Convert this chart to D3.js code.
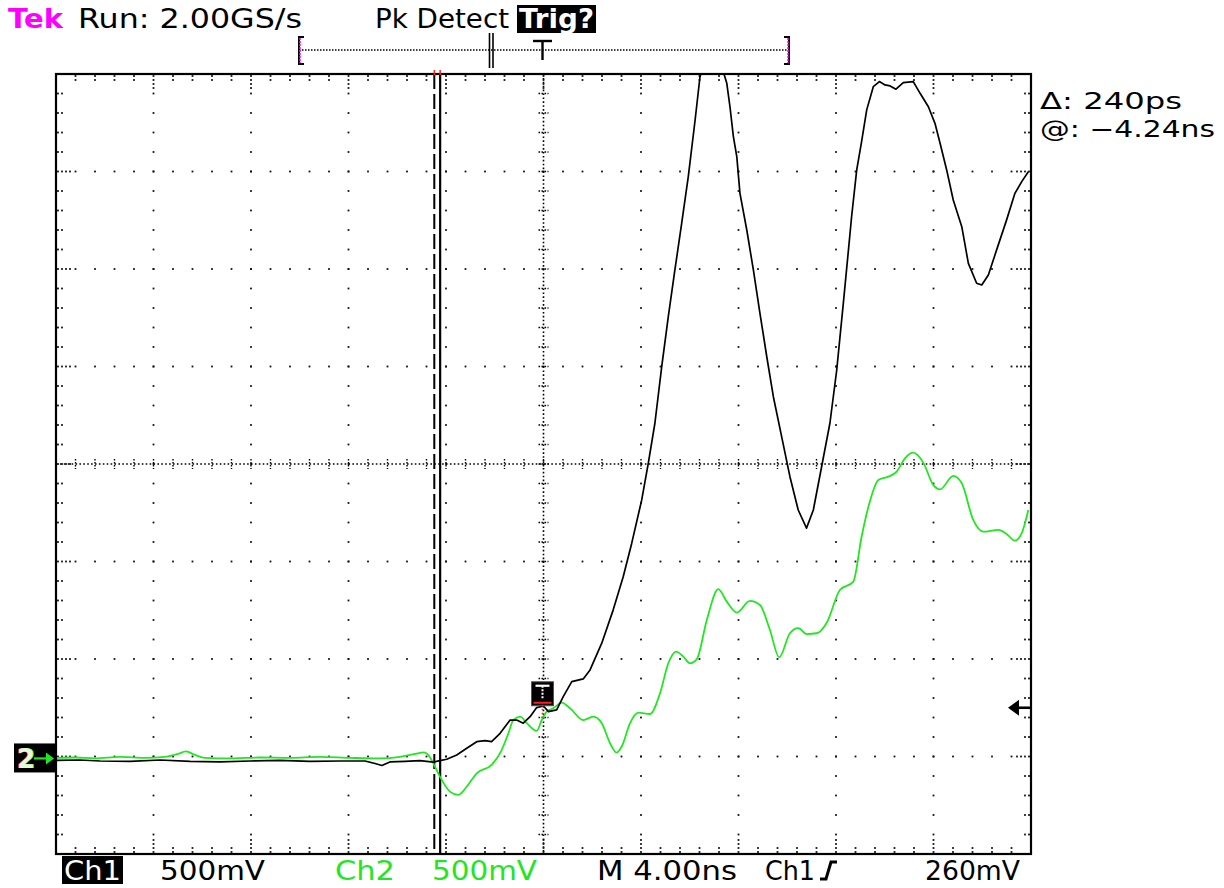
<!DOCTYPE html>
<html>
<head>
<meta charset="utf-8">
<script src="https://cdn.jsdelivr.net/npm/d3@7"></script>
<style>
  html, body { margin: 0; padding: 0; background: #fff; }
  svg { display: block; }
  text { font-family: "DejaVu Sans", "Liberation Sans", sans-serif; }
</style>
</head>
<body>
<svg id="scope" width="1224" height="888"></svg>
<script>
// ---- acquisition settings ----
const timePerDiv = 4.0;        // ns / div
const ch1VoltsPerDiv = 0.5;    // V / div
const ch2VoltsPerDiv = 0.5;    // V / div
const groundDiv = -3.02;       // ground reference of both channels, divisions from centre
const triggerLevel = 0.26;     // V, Ch1 rising edge
const cursorAt = -4.24;        // ns, solid cursor
const cursorDelta = 0.24;      // ns, dashed cursor sits this far before

// ---- Ch1 trace: [time ns, volts] ----
const ch1Trace = [
  [-19.96,-0.010],[-19.02,-0.008],[-18.19,-0.013],[-16.96,-0.015],[-15.73,-0.008],
  [-14.50,-0.015],[-13.27,-0.018],[-12.04,-0.013],[-10.81,-0.010],[-9.58,-0.015],
  [-8.35,-0.013],[-7.32,-0.013],[-6.91,-0.026],[-6.63,-0.036],[-6.30,-0.018],
  [-5.68,-0.015],[-5.07,-0.011],[-4.52,-0.019],[-4.25,-0.011],[-3.97,-0.004],
  [-3.56,0.018],[-3.15,0.052],[-2.74,0.086],[-2.40,0.091],[-2.13,0.086],
  [-1.78,0.129],[-1.37,0.197],[-1.10,0.197],[-0.83,0.181],[-0.55,0.214],
  [-0.28,0.261],[0.00,0.269],[0.20,0.240],[0.54,0.249],[0.81,0.317],
  [1.16,0.394],[1.63,0.408],[1.91,0.454],[2.39,0.591],[2.86,0.762],
  [3.27,0.932],[3.62,1.104],[4.03,1.326],[4.30,1.514],[4.57,1.719],
  [4.85,2.009],[5.12,2.266],[5.39,2.505],[5.67,2.745],[5.94,2.984],
  [6.22,3.274],[6.42,3.496],[6.95,3.700],[7.52,3.462],[7.65,3.342],
  [7.79,3.189],[7.93,3.086],[8.06,2.898],[8.34,2.710],[8.61,2.505],
  [8.88,2.283],[9.16,2.060],[9.43,1.855],[9.77,1.650],[10.11,1.445],
  [10.45,1.274],[10.79,1.181],[11.07,1.274],[11.41,1.496],[11.75,1.719],
  [12.03,1.992],[12.30,2.334],[12.52,2.620],[12.64,2.778],[12.85,3.018],
  [13.05,3.163],[13.26,3.326],[13.53,3.445],[13.78,3.471],[14.01,3.454],
  [14.22,3.449],[14.46,3.432],[14.76,3.466],[15.17,3.471],[15.45,3.411],
  [15.79,3.342],[16.06,3.257],[16.27,3.155],[16.54,3.018],[16.81,2.864],
  [17.16,2.727],[17.43,2.539],[17.77,2.437],[17.98,2.428],[18.25,2.479],
  [18.59,2.608],[19.00,2.762],[19.34,2.898],[19.62,2.958],[19.89,3.009]
];

// ---- Ch2 trace: [time ns, volts] ----
const ch2Trace = [
  [-19.96,0.003],[-19.22,0.005],[-18.40,0.000],[-17.38,0.008],[-16.36,0.003],
  [-15.54,0.008],[-15.00,0.023],[-14.67,0.036],[-14.30,0.018],[-13.89,0.003],
  [-12.86,0.000],[-11.63,0.005],[-10.40,0.003],[-9.17,0.008],[-7.94,0.003],
  [-6.71,0.000],[-5.89,0.008],[-5.27,0.023],[-4.90,0.031],[-4.73,0.018],
  [-4.52,-0.025],[-4.25,-0.093],[-3.84,-0.170],[-3.50,-0.187],[-3.15,-0.145],
  [-2.74,-0.076],[-2.13,-0.033],[-1.78,0.027],[-1.44,0.129],[-1.24,0.197],
  [-0.96,0.214],[-0.69,0.181],[-0.28,0.141],[-0.07,0.197],[0.13,0.240],
  [0.40,0.257],[0.75,0.286],[1.09,0.257],[1.63,0.197],[2.04,0.214],
  [2.39,0.181],[2.73,0.078],[3.00,0.030],[3.21,0.061],[3.55,0.181],
  [3.89,0.235],[4.37,0.228],[4.78,0.334],[5.12,0.488],[5.44,0.548],
  [5.74,0.522],[6.01,0.488],[6.29,0.509],[6.70,0.710],[7.17,0.868],
  [7.52,0.804],[7.93,0.748],[8.47,0.808],[8.88,0.787],[9.29,0.659],
  [9.67,0.519],[10.11,0.642],[10.45,0.668],[10.80,0.638],[11.21,0.642],
  [11.62,0.696],[12.16,0.864],[12.71,0.907],[13.05,1.137],[13.33,1.291],
  [13.74,1.428],[14.15,1.445],[14.49,1.471],[14.83,1.539],[15.17,1.568],
  [15.58,1.517],[15.99,1.403],[16.27,1.380],[16.81,1.449],[17.16,1.411],
  [17.63,1.223],[18.04,1.163],[18.66,1.172],[19.00,1.151],[19.34,1.117],
  [19.62,1.155],[19.89,1.274]
];

// ---- readout texts ----
const statusTexts = ["Tek", "Run: 2.00GS/s", "Pk Detect", "Trig?"];
const channelTexts = ["Ch1", "500mV", "Ch2", "500mV"];
const timebaseTexts = ["M 4.00ns", "Ch1", "260mV"];
const cursorTexts = ["\u0394: 240ps", "@: \u22124.24ns"];

// ---- colours ----
const INK = "#000";
const CH2 = "#22e622";
const TEK = "#ff00ff";
const RED = "#ff2020";

// ---- geometry ----
const X0 = 56, X1 = 1031, Y0 = 74, Y1 = 854;
const HDIV = 10, VDIV = 8, MINOR = 5;

const svg = d3.select("#scope");
svg.append("rect").attr("width", 1224).attr("height", 888).attr("fill", "#fff");

const x = d3.scaleLinear().domain([-HDIV / 2 * timePerDiv, HDIV / 2 * timePerDiv]).range([X0, X1]);
const divY = d3.scaleLinear().domain([-VDIV / 2, VDIV / 2]).range([Y1, Y0]);
const divX = d3.scaleLinear().domain([-HDIV / 2, HDIV / 2]).range([X0, X1]);
function channelScale(vpd) {
  return d3.scaleLinear()
    .domain([(-VDIV / 2 - groundDiv) * vpd, (VDIV / 2 - groundDiv) * vpd])
    .range([Y1, Y0]);
}
const y1 = channelScale(ch1VoltsPerDiv);
const y2 = channelScale(ch2VoltsPerDiv);

// ---- graticule ----
const grat = svg.append("g");
const dot = (gx, gy, s = 1.8) => grat.append("rect")
  .attr("x", gx - s / 2).attr("y", gy - s / 2).attr("width", s).attr("height", s).attr("fill", "#111");

const minorX = d3.range(1, HDIV * MINOR).map(k => divX(-HDIV / 2 + k / MINOR));
const minorY = d3.range(1, VDIV * MINOR).map(k => divY(-VDIV / 2 + k / MINOR));

// dotted major lines
d3.range(1, HDIV).filter(i => i !== HDIV / 2).forEach(i => {
  const gx = divX(-HDIV / 2 + i);
  minorY.forEach(gy => dot(gx, gy));
});
d3.range(1, VDIV).filter(j => j !== VDIV / 2).forEach(j => {
  const gy = divY(-VDIV / 2 + j);
  minorX.forEach(gx => dot(gx, gy));
});

// centre cross: fine dotted line with minor ticks
const cx = divX(0), cy = divY(0);
grat.append("line").attr("x1", X0).attr("x2", X1).attr("y1", cy).attr("y2", cy)
  .attr("stroke", INK).attr("stroke-width", 1.6).attr("stroke-dasharray", "1.6,2.3");
grat.append("line").attr("x1", cx).attr("x2", cx).attr("y1", Y0).attr("y2", Y1)
  .attr("stroke", INK).attr("stroke-width", 1.6).attr("stroke-dasharray", "1.6,2.3");
minorX.forEach(gx => grat.append("line").attr("x1", gx).attr("x2", gx).attr("y1", cy - 5).attr("y2", cy + 5)
  .attr("stroke", INK).attr("stroke-width", 1.4).attr("stroke-dasharray", "1.6,1.4"));
minorY.forEach(gy => grat.append("line").attr("x1", cx - 5).attr("x2", cx + 5).attr("y1", gy).attr("y2", gy)
  .attr("stroke", INK).attr("stroke-width", 1.4).attr("stroke-dasharray", "1.6,1.4"));

// edge ticks (two dots at minor, four dots at major)
minorX.forEach((gx, k) => {
  const n = ((k + 1) % MINOR === 0) ? 4 : 2;
  for (let m = 0; m < n; m++) {
    dot(gx, Y0 + 2 + m * 4);
    dot(gx, Y1 - 2 - m * 4);
  }
});
minorY.forEach((gy, k) => {
  const n = ((k + 1) % MINOR === 0) ? 4 : 2;
  for (let m = 0; m < n; m++) {
    dot(X0 + 2 + m * 4, gy);
    dot(X1 - 2 - m * 4, gy);
  }
});

// frame
grat.append("rect").attr("x", X0).attr("y", Y0).attr("width", X1 - X0).attr("height", Y1 - Y0)
  .attr("fill", "none").attr("stroke", INK).attr("stroke-width", 2.2);

// ---- cursors ----
const cSolid = x(cursorAt), cDash = x(cursorAt - cursorDelta);
svg.append("line").attr("x1", cDash).attr("x2", cDash).attr("y1", Y0).attr("y2", Y1)
  .attr("stroke", INK).attr("stroke-width", 2).attr("stroke-dasharray", "15,5");
svg.append("line").attr("x1", cSolid).attr("x2", cSolid).attr("y1", Y0).attr("y2", Y1)
  .attr("stroke", INK).attr("stroke-width", 2.2);
[cDash, cSolid].forEach(cxv => svg.append("line").attr("x1", cxv).attr("x2", cxv)
  .attr("y1", Y0 - 4).attr("y2", Y0 + 1).attr("stroke", RED).attr("stroke-width", 1.5));

// ---- waveforms ----
svg.append("clipPath").attr("id", "screen").append("rect")
  .attr("x", X0).attr("y", Y0).attr("width", X1 - X0).attr("height", Y1 - Y0);
const traces = svg.append("g").attr("clip-path", "url(#screen)");

const line1 = d3.line().x(d => x(d[0])).y(d => y1(d[1])).curve(d3.curveLinear);
const line2 = d3.line().x(d => x(d[0])).y(d => y2(d[1])).curve(d3.curveMonotoneX);

traces.append("path").datum(ch2Trace).attr("d", line2)
  .attr("fill", "none").attr("stroke", CH2).attr("stroke-width", 1.8).attr("stroke-linejoin", "round");
traces.append("path").datum(ch1Trace).attr("d", line1)
  .attr("fill", "none").attr("stroke", INK).attr("stroke-width", 1.7).attr("stroke-linejoin", "round");

// ---- trigger point marker on screen ----
const tx = x(0), ty = y1(triggerLevel);
const tm = svg.append("g");
tm.append("rect").attr("x", tx - 12).attr("y", ty - 26).attr("width", 22).attr("height", 24)
  .attr("fill", INK).attr("stroke", "#555").attr("stroke-width", 1);
tm.append("line").attr("x1", tx - 8).attr("x2", tx + 6).attr("y1", ty - 22).attr("y2", ty - 22)
  .attr("stroke", "#fff").attr("stroke-width", 2.2);
tm.append("line").attr("x1", tx - 1).attr("x2", tx - 1).attr("y1", ty - 22).attr("y2", ty - 9)
  .attr("stroke", "#fff").attr("stroke-width", 2).attr("stroke-dasharray", "2,1.5");
tm.append("line").attr("x1", tx - 10).attr("x2", tx + 8).attr("y1", ty - 5).attr("y2", ty - 5)
  .attr("stroke", RED).attr("stroke-width", 2);
tm.append("line").attr("x1", tx - 1).attr("x2", tx - 1).attr("y1", ty - 3).attr("y2", ty + 10)
  .attr("stroke", RED).attr("stroke-width", 1.6).attr("stroke-dasharray", "1.6,2.4");

// ---- trigger level arrow (right edge) ----
svg.append("path")
  .attr("d", `M${X1 - 23},${ty} l11,-8 v16 z`).attr("fill", INK);
svg.append("line").attr("x1", X1 - 14).attr("x2", X1).attr("y1", ty).attr("y2", ty)
  .attr("stroke", INK).attr("stroke-width", 2.6);

// ---- ground reference marker (left edge) ----
const gy = y1(0);
const gm = svg.append("g");
gm.append("rect").attr("x", 14).attr("y", gy - 15).attr("width", X0 - 14).attr("height", 29).attr("fill", INK);
gm.append("text").attr("x", 16).attr("y", gy + 10).attr("font-size", 26).attr("font-weight", "bold")
  .attr("fill", RED).text("2");
gm.append("text").attr("x", 18).attr("y", gy + 10).attr("font-size", 26).attr("font-weight", "bold")
  .attr("fill", CH2).text("2");
gm.append("text").attr("x", 17).attr("y", gy + 10).attr("font-size", 26).attr("font-weight", "bold")
  .attr("fill", "#fff").attr("opacity", 0.85).text("2");
gm.append("line").attr("x1", 34).attr("x2", 48).attr("y1", gy).attr("y2", gy)
  .attr("stroke", CH2).attr("stroke-width", 2.2);
gm.append("path").attr("d", `M${X0 - 2},${gy} l-8,-6 v12 z`).attr("fill", CH2);

// ---- record view bar (top) ----
const rb = svg.append("g");
const rbY = 50, rbL = 299, rbR = 789;
rb.append("line").attr("x1", rbL).attr("x2", rbR).attr("y1", rbY).attr("y2", rbY)
  .attr("stroke", INK).attr("stroke-width", 1.4).attr("stroke-dasharray", "1.5,1.5");
rb.append("path").attr("d", `M${rbL + 5},37 H${rbL} V64 H${rbL + 5}`)
  .attr("fill", "none").attr("stroke", INK).attr("stroke-width", 2);
rb.append("line").attr("x1", rbL + 1).attr("x2", rbL + 1).attr("y1", 38).attr("y2", 63)
  .attr("stroke", TEK).attr("stroke-width", 1.5).attr("stroke-dasharray", "2,1");
rb.append("path").attr("d", `M${rbR - 5},37 H${rbR} V64 H${rbR - 5}`)
  .attr("fill", "none").attr("stroke", INK).attr("stroke-width", 2);
rb.append("line").attr("x1", rbR - 1).attr("x2", rbR - 1).attr("y1", 38).attr("y2", 63)
  .attr("stroke", TEK).attr("stroke-width", 1.5).attr("stroke-dasharray", "2,1");
[489.5, 493].forEach(v => rb.append("line").attr("x1", v).attr("x2", v).attr("y1", 33).attr("y2", 68)
  .attr("stroke", INK).attr("stroke-width", 1.6));
rb.append("line").attr("x1", 533).attr("x2", 552).attr("y1", 41).attr("y2", 41)
  .attr("stroke", INK).attr("stroke-width", 2.4);
rb.append("line").attr("x1", 542.5).attr("x2", 542.5).attr("y1", 41).attr("y2", 60)
  .attr("stroke", INK).attr("stroke-width", 2.4);

// ---- readouts ----
const FS = 26;
function label(str, lx, ly, width, color, weight, size) {
  return svg.append("text").attr("x", lx).attr("y", ly)
    .attr("font-size", size || FS).attr("font-weight", weight || "normal")
    .attr("fill", color || INK)
    .attr("textLength", width).attr("lengthAdjust", "spacingAndGlyphs")
    .text(str);
}

// top status line
label(statusTexts[0], 8, 28, 55, TEK, "bold");
label(statusTexts[1], 78, 28, 224);
label(statusTexts[2], 375, 28, 134);
svg.append("rect").attr("x", 517).attr("y", 5).attr("width", 79).attr("height", 28).attr("fill", INK);
label(statusTexts[3], 519, 28, 75, "#fff", "bold");

// cursor readout
label(cursorTexts[0], 1040, 109, 142, INK, "normal", 23);
label(cursorTexts[1], 1040, 137, 175, INK, "normal", 23);

// bottom channel / timebase line
const BY = 880;
svg.append("rect").attr("x", 62).attr("y", 856).attr("width", 61).attr("height", 28).attr("fill", INK);
label(channelTexts[0], 64, BY, 57, "#fff");
label(channelTexts[1], 160, BY, 105);
label(channelTexts[2], 335, BY, 60, CH2);
label(channelTexts[3], 432, BY, 105, CH2);
label(timebaseTexts[0], 597, BY, 140);
label(timebaseTexts[1], 765, BY, 50);
svg.append("path").attr("d", "M820,879 H826 L831,862 H837")
  .attr("fill", "none").attr("stroke", INK).attr("stroke-width", 3);
label(timebaseTexts[2], 925, BY, 95);
</script>
</body>
</html>
